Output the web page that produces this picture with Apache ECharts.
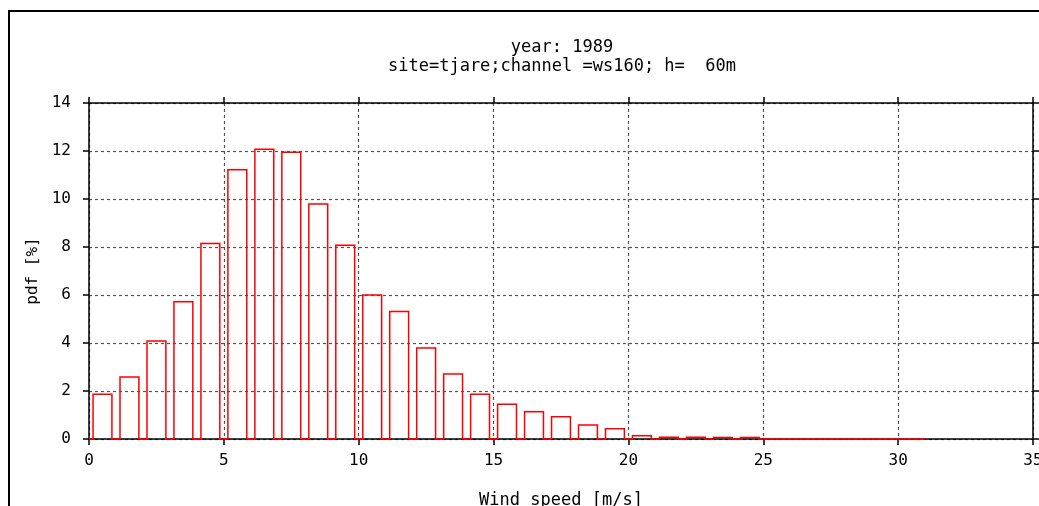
<!DOCTYPE html>
<html>
<head>
<meta charset="utf-8">
<script src="https://cdn.jsdelivr.net/npm/echarts@6/dist/echarts.min.js"></script>
<style>
html,body{margin:0;padding:0;background:#fff;}
#chart{width:1039px;height:506px;}
</style>
</head>
<body>
<div id="chart"></div>
<script>
// Data
const titleLines = ["year: 1989", "site=tjare;channel =ws160; h=  60m"];
const xName = "Wind speed [m/s]";
const yName = "pdf [%]";
const binCenters = [0.5,1.5,2.5,3.5,4.5,5.5,6.5,7.5,8.5,9.5,10.5,11.5,12.5,13.5,14.5,15.5,16.5,17.5,18.5,19.5,20.5,21.5,22.5,23.5,24.5,25.5,26.5,27.5,28.5,29.5,30.5];
const pdfValues = [1.86,2.58,4.08,5.72,8.15,11.22,12.07,11.95,9.79,8.07,6.0,5.31,3.79,2.71,1.86,1.45,1.14,0.93,0.58,0.43,0.14,0.07,0.07,0.06,0.06,0,0,0,0,0,0];
const xTicks = {min:0, max:35, interval:5};
const yTicks = {min:0, max:14, interval:2};

const FONT = '"DejaVu Sans Mono", monospace';
const chart = echarts.init(document.getElementById('chart'), null, {renderer:'canvas'});

const axisCommon = {
  axisLine:{show:true, onZero:false, lineStyle:{color:'#000', width:1.5}},
  axisTick:{show:true, inside:false, length:6, lineStyle:{color:'#000', width:1.5}},
};
const gridLine = {show:true, lineStyle:{color:'#555', width:1.2, type:[3,3]}};

chart.setOption({
  animation:false,
  backgroundColor:'#fff',
  title:{
    text: titleLines.join('\n'),
    left: 557, top: 33, textAlign:'center',
    textStyle:{fontFamily:FONT, fontSize:17, fontWeight:'normal', color:'#000', lineHeight:19}
  },
  graphic:[
    {type:'rect', shape:{x:9, y:11, width:1100, height:600}, style:{fill:null, stroke:'#000', lineWidth:2}, silent:true, z:-1}
  ],
  grid:{left:89, right:6, top:103, bottom:67, show:false, containLabel:false, outerBoundsMode:'none'},
  xAxis:[
    Object.assign({
      type:'value', position:'bottom', min:xTicks.min, max:xTicks.max, interval:xTicks.interval,
      name:xName, nameLocation:'middle', nameGap:53,
      nameTextStyle:{fontFamily:FONT, fontSize:17, color:'#000'},
      axisLabel:{fontFamily:FONT, fontSize:16, color:'#000', margin:14},
      splitLine:gridLine
    }, axisCommon),
    Object.assign({
      type:'value', position:'top', min:xTicks.min, max:xTicks.max, interval:xTicks.interval,
      axisLabel:{show:false}, splitLine:{show:false}
    }, axisCommon)
  ],
  yAxis:[
    Object.assign({
      type:'value', position:'left', min:yTicks.min, max:yTicks.max, interval:yTicks.interval,
      name:yName, nameLocation:'middle', nameGap:48, nameRotate:90,
      nameTextStyle:{fontFamily:FONT, fontSize:16, color:'#000'},
      axisLabel:{fontFamily:FONT, fontSize:16, color:'#000', margin:18},
      splitLine:gridLine
    }, axisCommon),
    Object.assign({
      type:'value', position:'right', min:yTicks.min, max:yTicks.max, interval:yTicks.interval,
      axisLabel:{show:false}, splitLine:{show:false}
    }, axisCommon)
  ],
  series:[{
    type:'custom',
    xAxisIndex:0, yAxisIndex:0,
    data: binCenters.map((c,i)=>[c, pdfValues[i]]),
    clip:false,
    z:5,
    renderItem:function(params, api){
      const c = api.value(0), v = api.value(1);
      const hw = 0.35;
      const pts = [
        api.coord([c-0.5, 0]), api.coord([c-hw, 0]), api.coord([c-hw, v]),
        api.coord([c+hw, v]), api.coord([c+hw, 0]), api.coord([c+0.5, 0])
      ];
      return {type:'polyline', shape:{points:pts}, style:{fill:null, stroke:'#ff0000', lineWidth:1.5}};
    }
  }]
});
</script>
</body>
</html>
